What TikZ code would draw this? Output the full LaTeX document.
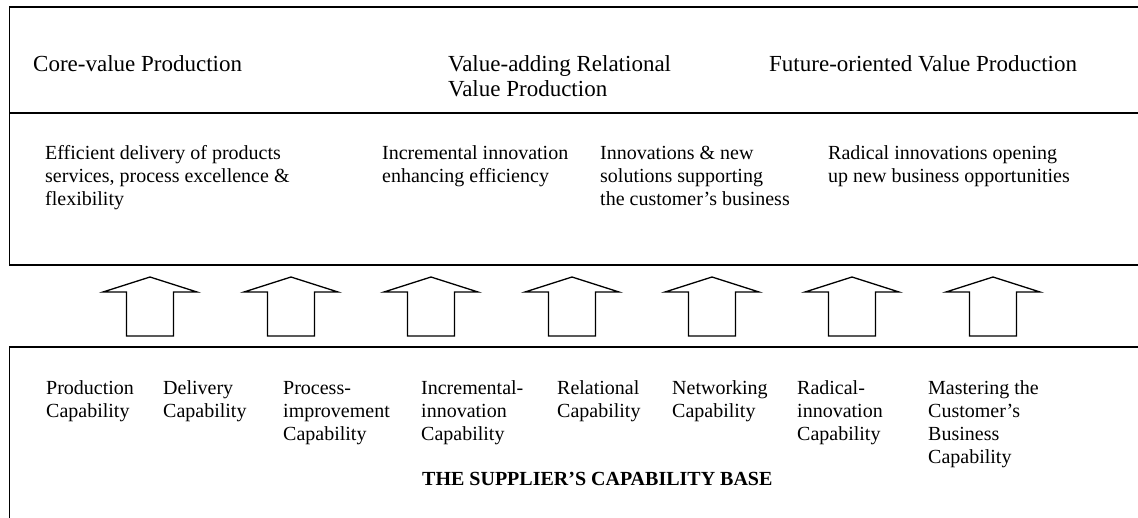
\documentclass[tikz,border=0pt]{standalone}
\usepackage{fontspec}
\setmainfont{Liberation Serif}
% left-aligned lines whose reference point is the first baseline
\newcommand\txtstack[1]{\begin{tabular}[t]{@{}l@{}}#1\end{tabular}}
\begin{document}
\begin{tikzpicture}[x=1pt,y=-1pt,
  frame/.style={line width=1.6pt},
  blockarrow/.style={line width=1.3pt, line join=miter},
  headtext/.style={anchor=base west, inner sep=0pt,
    font=\fontsize{23}{25}\selectfont},
  bodytext/.style={anchor=base west, inner sep=0pt,
    font=\fontsize{20}{23}\selectfont},
  basetitle/.style={anchor=base west, inner sep=0pt,
    font=\fontsize{20}{23}\selectfont\bfseries}]
\useasboundingbox (0,0) rectangle (1138,518);
\clip (0,0) rectangle (1138,518);

% value production frame (open to the right)
\draw[frame] (1145,7) -- (9.5,7) -- (9.5,265) -- (1145,265);
\draw[frame] (9.5,113) -- (1145,113);
% capability base frame (open to the right and below)
\draw[frame] (1145,347) -- (9.5,347) -- (9.5,525);

% headings of the value production levels
\node[headtext] (core) at (33,72) {Core-value Production};
\node[headtext] (relational) at (448,72) {\txtstack{Value-adding Relational\\Value Production}};
\node[headtext] (future) at (769,72) {Future-oriented Value Production};

% outcomes
\node[bodytext] (efficient) at (45,160) {\txtstack{Efficient delivery of products\\services, process excellence \&\\flexibility}};
\node[bodytext] (incremental) at (382,160) {\txtstack{Incremental innovation\\enhancing efficiency}};
\node[bodytext] (solutions) at (600,160) {\txtstack{Innovations \& new\\solutions supporting\\the customer's business}};
\node[bodytext] (radical) at (828,160) {\txtstack{Radical innovations opening\\up new business opportunities}};

% block arrows from the capability base upwards
\foreach \c [count=\i] in {150,291,431,572,712,852,993} {
  \coordinate (arrow\i) at (\c,336);
  \draw[blockarrow] (\c-23.5,336) -- (\c-23.5,292) -- (\c-47,292) -- (\c,277)
    -- (\c+47,292) -- (\c+23.5,292) -- (\c+23.5,336) -- cycle;
}

% capabilities
\node[bodytext] (prod) at (46,395) {\txtstack{Production\\Capability}};
\node[bodytext] (deliv) at (163,395) {\txtstack{Delivery\\Capability}};
\node[bodytext] (proc) at (283,395) {\txtstack{Process-\\improvement\\Capability}};
\node[bodytext] (incr) at (421,395) {\txtstack{Incremental-\\innovation\\Capability}};
\node[bodytext] (rel) at (557,395) {\txtstack{Relational\\Capability}};
\node[bodytext] (net) at (672,395) {\txtstack{Networking\\Capability}};
\node[bodytext] (rad) at (797,395) {\txtstack{Radical-\\innovation\\Capability}};
\node[bodytext] (mast) at (928,395) {\txtstack{Mastering the\\Customer's\\Business\\Capability}};

\node[basetitle] (base) at (422,485) {THE SUPPLIER'S CAPABILITY BASE};
\end{tikzpicture}
\end{document}
